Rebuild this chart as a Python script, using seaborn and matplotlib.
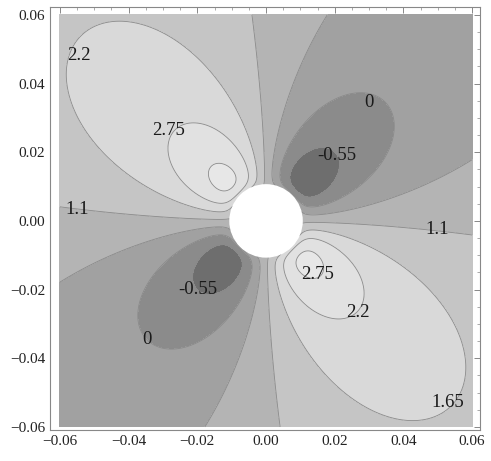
import numpy as np
import matplotlib.pyplot as plt
import seaborn as sns
from matplotlib.patches import Circle
from matplotlib.ticker import MultipleLocator

sns.set_style("white")
plt.rcParams['font.family'] = ['Liberation Serif', 'DejaVu Serif']

# contour levels and gray shades (low -> high)
levels = [-0.55, 0.0, 0.55, 1.1, 1.65, 2.2, 2.75]
shades = ['#6e6e6e', '#8b8b8b', '#a1a1a1', '#b4b4b4', '#c5c5c5',
          '#d9d9d9', '#e1e1e1', '#e7e7e7']

# contour labels as printed on the figure
label_text = ['2.2', '2.75', '1.1', '0', '-0.55', '1.1',
              '-0.55', '0', '2.75', '2.2', '1.65']
label_x = [-0.0545, -0.0285, -0.0550, 0.0300, 0.0207, 0.0498,
           -0.0198, -0.0347, 0.0149, 0.0268, 0.0530]
label_y = [0.0481, 0.0264, 0.0032, 0.0345, 0.0191, -0.0026,
           -0.0200, -0.0345, -0.0157, -0.0267, -0.0528]

ticks = [-0.06, -0.04, -0.02, 0.0, 0.02, 0.04, 0.06]
tick_labels = ['\u22120.06', '\u22120.04', '\u22120.02', '0.00', '0.02', '0.04', '0.06']

# field parameters
hole_r = 0.0105
base = 0.99
light_k, light_p = 0.0725, 0.858   # bright lobes (upper left / lower right)
dark_k, dark_p = 0.0786, 0.84      # dark lobes (upper right / lower left)
edge_frac = 0.23
edge_w = 0.0048
lobe_angle = 3 * np.pi / 4

x = np.linspace(-0.06, 0.06, 700)
X, Y = np.meshgrid(x, x)
R = np.hypot(X, Y)
T = np.arctan2(Y, X)
Rc = np.maximum(R, hole_r)
h = 1 - (1 - edge_frac) * np.exp(-(Rc - hole_r) / edge_w)
s = np.cos(2 * (T - lobe_angle))
amp = np.where(s > 0, light_k * Rc ** (-light_p), dark_k * Rc ** (-dark_p)) * h
Z = base + amp * s
Z = np.ma.masked_where(R < hole_r, Z)

fig = plt.figure(figsize=(4.91, 4.61), dpi=100)
ax = fig.add_axes([50 / 491, 31 / 461, 430 / 491, 423 / 461])

ax.contourf(X, Y, Z, levels=[-10] + levels + [10], colors=shades)
ax.contour(X, Y, Z, levels=levels, colors='#8a8a8a', linewidths=0.6)
ax.add_patch(Circle((0, 0), hole_r, color='white', zorder=3))

for t, lx, ly in zip(label_text, label_x, label_y):
    ax.text(lx, ly, t, fontsize=13.5, ha='center', va='center', color='#1a1a1a', zorder=4)

ax.set_xlim(-0.0629, 0.0623)
ax.set_ylim(-0.0609, 0.0623)
ax.set_xticks(ticks)
ax.set_xticklabels(tick_labels)
ax.set_yticks(ticks)
ax.set_yticklabels(tick_labels)
ax.xaxis.set_minor_locator(MultipleLocator(0.005))
ax.yaxis.set_minor_locator(MultipleLocator(0.005))
ax.tick_params(which='both', direction='in', top=True, right=True, color='#888888',
               labelsize=11, labelcolor='#222222')
ax.tick_params(which='major', length=4, width=0.7)
ax.tick_params(which='minor', length=2, width=0.5)
for sp in ax.spines.values():
    sp.set_color('#888888')
    sp.set_linewidth(0.8)

fig.savefig('out.png', dpi=100)
